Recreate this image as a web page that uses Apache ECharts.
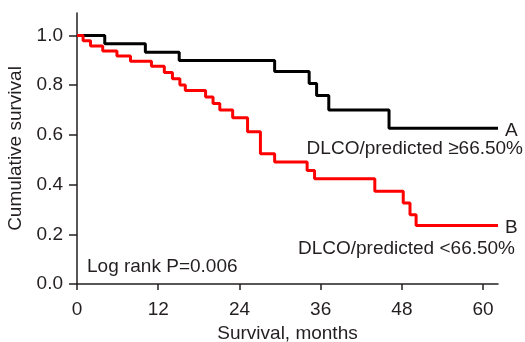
<!DOCTYPE html>
<html>
<head>
<meta charset="utf-8">
<script src="https://cdn.jsdelivr.net/npm/echarts@6/dist/echarts.min.js"></script>
<style>
html, body { margin: 0; padding: 0; background: #fff; }
#main { width: 525px; height: 342px; }
</style>
</head>
<body>
<div id="main"></div>
<script>
// Kaplan-Meier steps (months, cumulative survival after the drop)
var monthsA = [0, 4.1, 10.1, 15.1, 29.2, 34.3, 35.4, 37.2, 46.1, 62.2];
var survA   = [1.0, 0.966, 0.932, 0.899, 0.855, 0.806, 0.758, 0.700, 0.626, 0.626];

var monthsB = [0, 0.9, 2.0, 3.8, 5.9, 7.9, 11.0, 12.9, 14.1, 15.2, 16.0, 19.0, 20.1, 21.1, 23.0, 25.2, 27.1, 29.2, 34.0, 35.1, 44.0, 48.2, 49.2, 50.1, 62.2];
var survB   = [1.0, 0.978, 0.957, 0.937, 0.917, 0.896, 0.876, 0.851, 0.826, 0.800, 0.778, 0.752, 0.726, 0.700, 0.669, 0.612, 0.524, 0.491, 0.457, 0.423, 0.373, 0.326, 0.279, 0.235, 0.235];

var xTicks = [0, 12, 24, 36, 48, 60];
var yTicks = [0, 0.2, 0.4, 0.6, 0.8, 1.0];

var FONT = '"Liberation Sans", Arial, Helvetica, sans-serif';
var TXT = '#231f20';
var FS = 19;

function pairs(xs, ys) {
	return xs.map(function (x, i) { return [x, ys[i]]; });
}

var chart = echarts.init(document.getElementById('main'));

var option = {
	animation: false,
	backgroundColor: '#fff',
	grid: { left: 77, right: 27, top: 13, bottom: 58, containLabel: false, outerBoundsMode: 'none' },
	xAxis: {
		type: 'value',
		min: 0,
		max: 62.2,
		name: 'Survival, months',
		nameLocation: 'middle',
		nameGap: 39,
		nameTextStyle: { fontFamily: FONT, fontSize: FS, color: TXT },
		axisLine: { lineStyle: { color: TXT, width: 1.5 } },
		axisTick: { length: 6, customValues: xTicks, lineStyle: { color: TXT, width: 1.5 } },
		axisLabel: { customValues: xTicks, margin: 16, fontFamily: FONT, fontSize: FS, color: TXT },
		splitLine: { show: false }
	},
	yAxis: {
		type: 'value',
		min: 0,
		max: 1.09,
		name: 'Cumulative survival',
		nameLocation: 'middle',
		nameGap: 47,
		nameTextStyle: { fontFamily: FONT, fontSize: FS, color: TXT },
		axisLine: { show: true, lineStyle: { color: TXT, width: 1.5 } },
		axisTick: { show: true, length: 8, customValues: yTicks, lineStyle: { color: TXT, width: 1.5 } },
		axisLabel: {
			customValues: yTicks, margin: 14, fontFamily: FONT, fontSize: FS, color: TXT,
			formatter: function (v) { return v.toFixed(1); }
		},
		splitLine: { show: false }
	},
	graphic: [
		{ type: 'text', left: 505, top: 121, style: { text: 'A', font: FS + 'px ' + FONT, fill: TXT } },
		{ type: 'text', right: 2, top: 139, style: { text: 'DLCO/predicted \u226566.50%', font: FS + 'px ' + FONT, fill: TXT } },
		{ type: 'text', left: 505, top: 218, style: { text: 'B', font: FS + 'px ' + FONT, fill: TXT } },
		{ type: 'text', right: 10, top: 239, style: { text: 'DLCO/predicted <66.50%', font: FS + 'px ' + FONT, fill: TXT } },
		{ type: 'text', left: 87, top: 257, style: { text: 'Log rank P=0.006', font: FS + 'px ' + FONT, fill: TXT } }
	],
	series: [{
		name: 'A',
		type: 'line',
		step: 'end',
		symbol: 'none',
		data: pairs(monthsA, survA),
		lineStyle: { color: '#000000', width: 3 }
	}, {
		name: 'B',
		type: 'line',
		step: 'end',
		symbol: 'none',
		data: pairs(monthsB, survB),
		lineStyle: { color: '#ff0000', width: 3 }
	}]
};

chart.setOption(option);
</script>
</body>
</html>
